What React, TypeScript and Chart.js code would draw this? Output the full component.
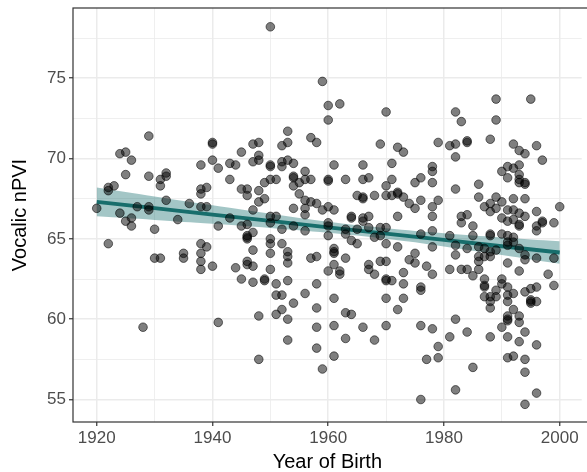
import React, { useEffect, useRef } from "react";
import { Chart, registerables } from "chart.js";

Chart.register(...registerables);

// Year of birth for each singer/composer point
const birthYear: number[] = [
  1929,
  1950, 1959, 1960, 1960, 1953, 1957, 1958, 1953, 1952, 1940, 1940, 1947, 1948,
  1962, 1970, 1969, 1972, 1979, 1981, 1982, 1982,
  1983, 1989, 1995, 1989, 1988, 1984, 1984, 1992, 1996,
  1924, 1925, 1926, 1925, 1929, 1932, 1932, 1931, 1931, 1922, 1923, 1922, 1920, 1924, 1927, 1929, 1929, 1932, 1936,
  1925, 1926, 1926, 1930, 1934, 1922, 1930, 1931, 1935, 1935,
  1940, 1938, 1941, 1943, 1944, 1945, 1947, 1948, 1948, 1950, 1950, 1952, 1952, 1953, 1954, 1956, 1954, 1954,
  1943, 1949, 1950, 1951, 1954, 1955, 1956, 1957, 1960, 1960, 1939, 1938, 1945, 1946, 1946, 1948, 1938, 1955,
  1949, 1948, 1956, 1957, 1956, 1956, 1958, 1959, 1960, 1954, 1947, 1938, 1939, 1943, 1950, 1951, 1950, 1946,
  1945, 1952, 1954, 1956, 1960, 1960, 1941, 1947, 1946, 1946, 1946, 1950, 1950, 1938, 1939, 1952, 1947, 1950,
  1953, 1953, 1953, 1938, 1938, 1957, 1958, 1946, 1946, 1947, 1944, 1940, 1950, 1938, 1945, 1947, 1949, 1949,
  1953, 1958, 1951,
  1951, 1952, 1956, 1954, 1958, 1952, 1951, 1948, 1953, 1941, 1958, 1953, 1958, 1948, 1959,
  1973, 1982, 1961, 1966, 1971, 1978, 1978, 1978, 1963, 1966, 1967, 1971, 1970, 1975, 1976, 1982, 1965, 1966,
  1966, 1968, 1970, 1971, 1972, 1972, 1973, 1974, 1975, 1976, 1978, 1979, 1961, 1978, 1964, 1964, 1966, 1967,
  1966, 1972, 1960, 1963, 1963, 1965, 1967, 1969, 1970, 1968, 1969, 1964, 1965, 1970, 1976, 1978, 1981, 1972,
  1978, 1982, 1961, 1961, 1961, 1963, 1961, 1975, 1969, 1970, 1974, 1975, 1982, 1967, 1967, 1977, 1981, 1983,
  1962, 1962, 1968, 1960, 1970, 1970, 1971, 1973, 1978,
  1973, 1976, 1976, 1961, 1970, 1973, 1963, 1964, 1972, 1961, 1966, 1970, 1976, 1978, 1982, 1981, 1963, 1968,
  1979, 1961, 1977, 1979, 1982, 1976,
  1993, 1994, 1997, 1991, 1992, 1993, 1990, 1991, 1993, 1993, 1993, 1994, 1994, 1986, 1986, 1989, 1988, 1987,
  1988, 1989, 1990, 1992, 1994, 2000, 1991, 1992, 1993, 1994, 1996, 1990, 1991, 1992, 1993, 1993, 1983, 1984,
  1983, 1985, 1997, 1997, 1996, 1996, 1999, 1985, 1988, 1988, 1990, 1991, 1992, 1991, 1992, 1991, 1984, 1986,
  1987, 1988, 1989, 1986, 1987, 1988, 1993, 1994, 1994, 1996, 1999, 1986, 1986, 1991, 1993, 1984, 1985, 1987,
  1990, 1998, 1990,
  1987, 1987, 1987, 1988, 1988, 1988, 1989, 1989, 1991, 1991, 1991, 1992, 1994, 1995, 1995, 1995, 1995, 1996,
  1996, 1999, 1984, 1985, 1988, 1990, 1991, 1991, 1991, 1992, 1993, 1993, 1991, 1994, 1993, 1996, 1991, 1992,
  1994, 1994, 1996, 1994,
  1928,
];

// Vocalic nPVI for each point (same order as birthYear)
const vocalicNPVI: number[] = [
  71.4,
  78.2, 74.8, 73.3, 72.4, 71.7, 71.3, 71.0, 71.0, 70.8, 71.0, 70.9, 70.9, 71.0,
  73.4, 72.9, 70.9, 70.7, 71.0, 70.8, 70.9, 72.9,
  72.3, 73.7, 73.7, 72.4, 71.2, 71.1, 71.0, 70.9, 70.8,
  70.3, 70.4, 69.9, 69.0, 68.9, 69.1, 68.9, 68.7, 68.3, 68.2, 68.3, 68.0, 66.9, 66.6, 67.0, 67.0, 66.8, 67.4, 67.2,
  66.1, 66.3, 65.8, 65.6, 66.2, 64.7, 63.8, 63.8, 64.1, 63.8,
  69.9, 69.6, 69.4, 69.7, 69.6, 70.4, 69.8, 70.2, 69.9, 69.6, 69.5, 69.8, 69.5, 69.9, 69.7, 69.2, 68.9, 68.8,
  68.7, 68.5, 68.7, 68.7, 68.3, 68.5, 68.7, 68.7, 68.7, 68.6, 68.2, 68.1, 68.1, 68.1, 67.7, 68.0, 67.8, 67.8,
  67.5, 67.3, 67.4, 67.3, 66.9, 66.5, 67.2, 66.8, 67.0, 66.9, 66.8, 67.0, 67.0, 66.3, 66.4, 66.4, 66.0, 65.9,
  65.8, 65.6, 65.8, 65.5, 65.8, 65.2, 65.8, 65.4, 65.2, 65.0, 65.1, 65.0, 64.7, 64.7, 64.5, 64.7, 64.3, 64.1,
  64.2, 63.9, 63.5, 64.1, 63.6, 63.8, 63.9, 63.6, 63.4, 63.3, 63.2, 63.3, 63.1, 63.1, 62.5, 62.3, 62.5, 62.4,
  62.4, 62.2, 62.2,
  61.5, 61.5, 61.6, 61.0, 60.7, 60.6, 60.3, 60.2, 60.0, 59.8, 59.5, 58.7, 58.2, 57.5, 56.9,
  70.4, 70.1, 69.6, 69.6, 69.7, 69.5, 69.2, 68.5, 68.7, 68.7, 68.8, 68.7, 68.3, 68.5, 68.8, 68.1, 67.7, 67.6,
  67.5, 67.7, 67.7, 67.7, 67.9, 67.8, 67.6, 67.2, 66.9, 67.4, 67.0, 67.4, 66.8, 66.4, 66.3, 66.4, 66.3, 66.4,
  66.1, 66.4, 66.0, 65.6, 65.3, 65.6, 65.7, 65.7, 65.7, 65.1, 65.2, 64.9, 64.7, 64.7, 65.3, 65.5, 65.2, 64.5,
  64.5, 64.6, 64.4, 64.1, 64.2, 63.8, 63.4, 64.1, 63.6, 63.6, 63.7, 63.5, 64.0, 63.4, 63.1, 63.3, 63.1, 63.1,
  63.0, 62.8, 62.8, 63.0, 62.4, 62.5, 62.4, 62.9, 62.8,
  62.2, 62.0, 61.8, 61.3, 61.3, 61.3, 60.4, 60.3, 60.6, 59.6, 59.5, 59.6, 59.6, 59.4, 60.0, 58.9, 58.8, 58.7,
  58.3, 57.7, 57.5, 57.6, 55.6, 55.0,
  70.5, 70.3, 69.9, 69.5, 69.4, 69.6, 69.2, 68.8, 69.0, 68.7, 68.5, 68.5, 68.4, 68.4, 67.6, 67.6, 67.2, 67.0,
  66.7, 66.9, 67.3, 67.5, 67.5, 67.0, 66.8, 66.8, 66.6, 66.4, 66.7, 66.3, 66.1, 66.2, 65.9, 65.8, 66.4, 66.5,
  66.0, 65.8, 66.0, 66.1, 65.8, 65.5, 66.0, 65.2, 65.2, 65.3, 65.3, 65.2, 65.1, 64.8, 64.8, 64.6, 64.4, 64.5,
  64.4, 64.2, 64.3, 63.9, 63.9, 63.9, 64.4, 64.0, 63.7, 63.8, 63.8, 63.6, 63.1, 63.5, 63.0, 63.1, 62.7, 62.5,
  62.5, 62.8, 62.2,
  62.0, 62.1, 61.4, 61.4, 61.1, 60.7, 61.8, 61.4, 62.0, 61.5, 61.1, 61.6, 61.7, 61.9, 61.2, 61.0, 61.1, 62.0,
  61.1, 62.1, 59.2, 57.0, 58.9, 59.5, 60.2, 59.9, 60.0, 60.6, 60.2, 59.8, 58.9, 59.2, 58.6, 58.4, 57.6, 57.7,
  57.5, 56.7, 55.4, 54.7,
  59.5,
];

// Linear fit with 95% confidence band, read at these years
const fitYears: number[] = [1920, 1930, 1940, 1950, 1960, 1970, 1980, 1990, 2000];
const fitValues: number[] = [67.3, 66.91, 66.51, 66.12, 65.72, 65.33, 64.94, 64.54, 64.15];
const fitUpper: number[] = [68.2, 67.64, 67.09, 66.56, 66.06, 65.66, 65.35, 65.09, 64.85];
const fitLower: number[] = [66.4, 66.18, 65.94, 65.68, 65.38, 65.0, 64.53, 64.0, 63.45];

const xTickValues: number[] = [1920, 1930, 1940, 1950, 1960, 1970, 1980, 1990, 2000];
const yTickValues: number[] = [55, 57.5, 60, 62.5, 65, 67.5, 70, 72.5, 75, 77.5];

const FONT = "'Liberation Sans', Arial, Helvetica, sans-serif";

export default function App() {
  const ref = useRef<HTMLCanvasElement | null>(null);

  useEffect(() => {
    if (!ref.current) return;
    const pts = birthYear.map((x, i) => ({ x, y: vocalicNPVI[i] }));
    const line = fitYears.map((x, i) => ({ x, y: fitValues[i] }));
    const up = fitYears.map((x, i) => ({ x, y: fitUpper[i] }));
    const lo = fitYears.map((x, i) => ({ x, y: fitLower[i] }));

    const borderPlugin = {
      id: "panelBorder",
      afterDatasetsDraw(chart: any) {
        const { ctx, chartArea } = chart;
        ctx.save();
        ctx.strokeStyle = "#333333";
        ctx.lineWidth = 1.2;
        ctx.strokeRect(chartArea.left, chartArea.top, chartArea.right - chartArea.left + 20, chartArea.bottom - chartArea.top);
        ctx.restore();
      },
    };

    const isMajorX = (v: number) => v % 20 === 0;
    const isMajorY = (v: number) => v % 5 === 0;

    const chart = new Chart(ref.current, {
      type: "scatter",
      data: {
        datasets: [
          {
            type: "scatter",
            data: pts,
            order: 0,
            pointRadius: 4.3,
            pointHoverRadius: 4.3,
            backgroundColor: "rgba(0,0,0,0.5)",
            borderColor: "rgba(0,0,0,0.55)",
            borderWidth: 1,
          },
          {
            type: "line",
            data: line,
            order: 1,
            borderColor: "#186e6c",
            borderWidth: 3.8,
            pointRadius: 0,
            fill: false,
            tension: 0,
          },
          {
            type: "line",
            data: up,
            order: 2,
            borderWidth: 0,
            borderColor: "rgba(0,0,0,0)",
            pointRadius: 0,
            fill: "+1",
            backgroundColor: "rgba(35,120,118,0.42)",
            tension: 0.4,
          },
          {
            type: "line",
            data: lo,
            order: 3,
            borderWidth: 0,
            borderColor: "rgba(0,0,0,0)",
            pointRadius: 0,
            fill: false,
            tension: 0.4,
          },
        ],
      } as any,
      options: {
        animation: false,
        responsive: false,
        maintainAspectRatio: false,
        layout: { padding: { top: 8, right: 0, bottom: 0, left: 0 } },
        plugins: { legend: { display: false }, tooltip: { enabled: false } },
        scales: {
          x: {
            type: "linear",
            min: 1915.9,
            max: 2003.8,
            afterBuildTicks: (s: any) => {
              s.ticks = xTickValues.map((v) => ({ value: v }));
            },
            afterFit: (s: any) => {
              s.height = 50;
              s.paddingLeft = 0;
              s.paddingRight = 0;
            },
            ticks: {
              autoSkip: false,
              maxRotation: 0,
              padding: 2,
              color: "#4d4d4d",
              font: { family: FONT, size: 17 },
              callback: (v: any) => (isMajorX(Number(v)) ? String(v) : ""),
            },
            grid: {
              color: "#ebebeb",
              lineWidth: (c: any) => (isMajorX(c.tick.value) ? 1.5 : 0.8),
              tickLength: 4,
              tickColor: (c: any) => (isMajorX(c.tick.value) ? "#333333" : "rgba(0,0,0,0)"),
              tickWidth: 1.2,
            },
            border: { display: false },
            title: {
              display: true,
              text: "Year of Birth",
              color: "#000000",
              font: { family: FONT, size: 20, lineHeight: 1 },
              padding: { top: 0, bottom: 0 },
            },
          },
          y: {
            type: "linear",
            min: 53.6,
            max: 79.37,
            afterBuildTicks: (s: any) => {
              s.ticks = yTickValues.map((v) => ({ value: v }));
            },
            afterFit: (s: any) => {
              s.width = 73;
              s.paddingTop = 0;
              s.paddingBottom = 0;
            },
            ticks: {
              autoSkip: false,
              padding: 3,
              color: "#4d4d4d",
              font: { family: FONT, size: 17 },
              callback: (v: any) => (isMajorY(Number(v)) ? String(v) : ""),
            },
            grid: {
              color: "#ebebeb",
              lineWidth: (c: any) => (isMajorY(c.tick.value) ? 1.5 : 0.8),
              tickLength: 4,
              tickColor: (c: any) => (isMajorY(c.tick.value) ? "#333333" : "rgba(0,0,0,0)"),
              tickWidth: 1.2,
            },
            border: { display: false },
            title: {
              display: true,
              text: "Vocalic nPVI",
              color: "#000000",
              font: { family: FONT, size: 20, lineHeight: 1 },
              padding: { top: 10, bottom: 0 },
            },
          },
        },
      },
      plugins: [borderPlugin],
    } as any);

    return () => chart.destroy();
  }, []);

  return (
    <div style={{ position: "absolute", left: 0, top: 0, width: 587, height: 472, background: "#ffffff" }}>
      <canvas ref={ref} width={587} height={472} style={{ display: "block", width: 587, height: 472 }} />
    </div>
  );
}
